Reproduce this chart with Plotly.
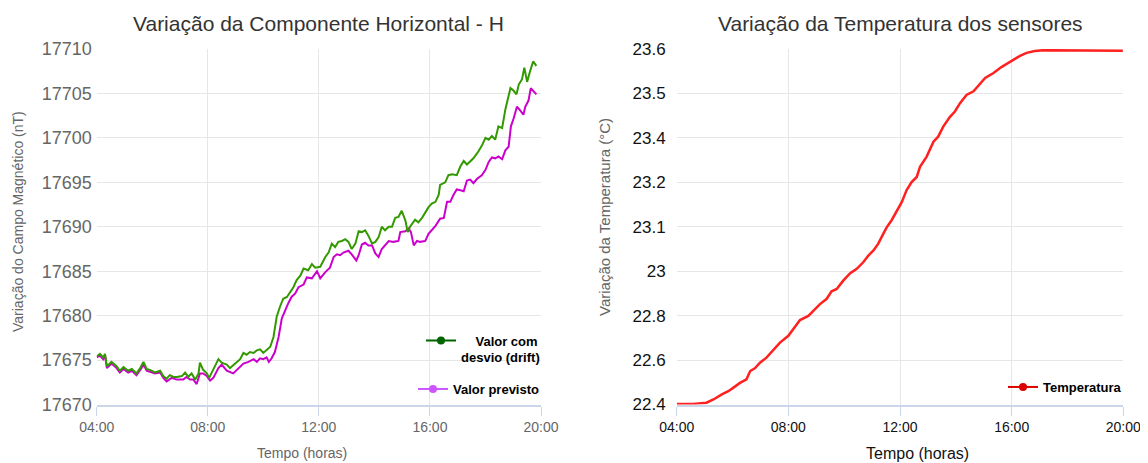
import numpy as np
import pandas as pd
import plotly.graph_objects as go

# ---------------- data (minutes after 04:00) ----------------
drift_min = [0, 7, 14, 18, 22, 32, 43, 50, 58, 68,
             76, 86, 94, 101, 108, 115, 126, 137, 144, 151,
             158, 166, 173, 184, 191, 198, 205, 213, 220, 223,
             230, 238, 243, 252, 263, 270, 281, 288, 299, 310,
             317, 324, 331, 339, 346, 353, 360, 367, 375, 382,
             389, 396, 403, 411, 418, 425, 432, 440, 447, 457,
             465, 472, 483, 494, 501, 508, 515, 522, 530, 537,
             544, 551, 559, 566, 573, 580, 587, 595, 602, 609,
             616, 623, 631, 638, 645, 652, 659, 667, 672, 677,
             688, 695, 703, 710, 717, 724, 732, 739, 742, 753,
             760, 768, 778, 786, 793, 800, 807, 814, 825, 832,
             840, 847, 854, 861, 868, 876, 883, 888, 894, 901,
             907, 912, 919, 924, 930, 937, 943, 950]
drift_nT = [17675.4, 17675.7, 17675.3, 17675.7, 17674.3, 17674.8, 17674.3, 17673.8, 17674.2, 17673.8,
            17674.0, 17673.5, 17674.1, 17674.8, 17674.0, 17673.9, 17673.6, 17673.8, 17673.2, 17672.9,
            17673.3, 17673.1, 17673.1, 17673.2, 17673.6, 17673.1, 17673.5, 17672.8, 17673.5, 17674.7,
            17673.9, 17673.5, 17673.0, 17673.9, 17675.1, 17674.7, 17674.5, 17674.1, 17674.6, 17675.1,
            17675.8, 17675.6, 17675.9, 17675.8, 17676.1, 17676.2, 17675.8, 17676.1, 17676.5, 17677.6,
            17679.9, 17681.0, 17681.9, 17682.1, 17682.7, 17683.2, 17684.0, 17684.5, 17685.3, 17685.1,
            17685.8, 17685.4, 17685.5, 17686.6, 17687.1, 17688.1, 17687.7, 17688.3, 17688.4, 17688.6,
            17688.3, 17687.5, 17688.1, 17689.5, 17689.4, 17689.6, 17689.0, 17688.1, 17688.3, 17688.8,
            17690.0, 17689.6, 17690.0, 17690.0, 17691.0, 17691.1, 17691.8, 17690.7, 17689.4, 17690.0,
            17690.8, 17690.5, 17691.0, 17691.6, 17692.2, 17692.6, 17692.8, 17693.6, 17694.7, 17695.0,
            17695.8, 17695.9, 17695.8, 17696.8, 17697.4, 17697.0, 17697.4, 17697.7, 17698.5, 17699.1,
            17700.0, 17699.8, 17700.2, 17699.8, 17701.3, 17701.1, 17703.2, 17704.3, 17705.6, 17705.3,
            17704.9, 17706.0, 17706.6, 17707.9, 17706.3, 17707.6, 17708.6, 17708.1]

prev_min = [0, 7, 14, 18, 22, 32, 43, 50, 58, 68,
            76, 86, 97, 101, 108, 126, 137, 144, 151, 162,
            173, 187, 194, 202, 209, 216, 223, 230, 238, 245,
            252, 263, 270, 281, 295, 306, 317, 328, 339, 346,
            353, 360, 367, 372, 378, 385, 393, 400, 407, 414,
            421, 429, 436, 447, 454, 465, 476, 483, 494, 504,
            512, 519, 526, 533, 544, 551, 561, 566, 573, 580,
            587, 595, 602, 609, 616, 623, 631, 641, 652, 656,
            667, 674, 679, 685, 692, 699, 710, 717, 724, 732,
            742, 750, 757, 764, 771, 778, 786, 793, 800, 807,
            814, 822, 832, 840, 847, 854, 861, 868, 876, 883,
            890, 895, 901, 908, 915, 922, 926, 933, 938, 944,
            950]
prev_nT = [17675.3, 17675.5, 17675.1, 17675.5, 17674.1, 17674.6, 17674.1, 17673.6, 17674.0, 17673.6,
           17673.8, 17673.3, 17674.1, 17674.5, 17673.8, 17673.5, 17673.6, 17673.0, 17672.6, 17673.0,
           17672.8, 17672.8, 17673.1, 17672.8, 17672.8, 17672.3, 17673.5, 17673.5, 17673.2, 17672.7,
           17673.0, 17674.1, 17674.5, 17673.8, 17673.5, 17674.1, 17674.6, 17674.8, 17675.1, 17674.8,
           17675.2, 17675.1, 17675.3, 17674.8, 17675.2, 17675.9, 17677.6, 17679.7, 17680.6, 17681.4,
           17682.1, 17682.5, 17683.2, 17683.5, 17684.3, 17684.2, 17685.0, 17684.2, 17684.9, 17685.4,
           17686.6, 17686.9, 17686.8, 17687.1, 17687.3, 17686.9, 17686.2, 17686.8, 17688.0, 17688.2,
           17687.9, 17687.9, 17687.0, 17686.6, 17687.5, 17687.9, 17688.4, 17688.3, 17688.4, 17689.4,
           17689.5, 17689.8, 17689.4, 17687.9, 17688.4, 17688.3, 17688.4, 17689.2, 17689.6, 17690.1,
           17690.9, 17691.0, 17692.8, 17692.8, 17693.6, 17694.2, 17694.1, 17694.0, 17695.2, 17695.3,
           17694.9, 17695.4, 17695.8, 17696.4, 17697.3, 17697.8, 17697.7, 17697.9, 17697.6, 17698.6,
           17699.0, 17701.3, 17702.2, 17703.5, 17703.1, 17702.6, 17703.5, 17704.2, 17705.6, 17705.3,
           17704.9]

temp_min = [0, 36, 64, 79, 97, 111, 122, 136, 150, 158,
            168, 179, 193, 208, 222, 240, 251, 265, 283, 297,
            308, 322, 333, 344, 358, 373, 387, 401, 412, 423,
            433, 444, 451, 462, 473, 484, 494, 505, 516, 523,
            537, 552, 562, 573, 587, 598, 609, 623, 638, 648,
            663, 681, 698, 713, 727, 738, 752, 770, 788, 824,
            860, 895, 959]
temp_C = [22.402, 22.402, 22.406, 22.417, 22.434, 22.445, 22.457, 22.473, 22.485, 22.513,
          22.522, 22.541, 22.558, 22.583, 22.609, 22.632, 22.654, 22.685, 22.699, 22.722,
          22.739, 22.756, 22.782, 22.790, 22.818, 22.843, 22.858, 22.880, 22.903, 22.920,
          22.942, 22.976, 22.997, 23.022, 23.055, 23.084, 23.123, 23.151, 23.168, 23.202,
          23.236, 23.287, 23.304, 23.338, 23.370, 23.389, 23.417, 23.445, 23.457, 23.474,
          23.502, 23.519, 23.539, 23.553, 23.566, 23.577, 23.587, 23.593, 23.596, 23.596,
          23.596, 23.596, 23.594]

temp_tick_labels = ["22.4", "22.6", "22.8", "23", "23.1", "23.2", "23.4", "23.5", "23.6"]

# ---------------- build ----------------
base = pd.Timestamp("2024-01-01 04:00")
def to_time(mins):
    return base + pd.to_timedelta(np.array(mins), unit="m")

t_start = base
t_end = base + pd.Timedelta(hours=16)

FONT = "Liberation Sans, Arial, sans-serif"
OFF = 8                      # page body margin
W, H = 1148 - OFF, 463 - OFF  # figure size

fig = go.Figure()

fig.add_trace(go.Scatter(x=to_time(prev_min), y=prev_nT, mode="lines",
                         line=dict(color="#cc00cc", width=2), showlegend=False,
                         xaxis="x", yaxis="y"))
fig.add_trace(go.Scatter(x=to_time(drift_min), y=drift_nT, mode="lines",
                         line=dict(color="#339900", width=2), showlegend=False,
                         xaxis="x", yaxis="y"))
fig.add_trace(go.Scatter(x=to_time(temp_min), y=temp_C, mode="lines",
                         line=dict(color="#ff2020", width=2.5), showlegend=False,
                         xaxis="x2", yaxis="y2"))

# legend entries
fig.add_trace(go.Scatter(x=[None], y=[None], mode="lines+markers",
                         name="&nbsp;&nbsp;&nbsp;&nbsp;Valor com<br>desvio (drift)",
                         line=dict(color="#006400", width=2), marker=dict(size=8, color="#006400"),
                         legend="legend", xaxis="x", yaxis="y"))
fig.add_trace(go.Scatter(x=[None], y=[None], mode="lines+markers",
                         name="Valor previsto",
                         line=dict(color="#cc55ff", width=2), marker=dict(size=8, color="#cc55ff"),
                         legend="legend2", xaxis="x", yaxis="y"))
fig.add_trace(go.Scatter(x=[None], y=[None], mode="lines+markers",
                         name="Temperatura",
                         line=dict(color="#dd0000", width=2), marker=dict(size=8, color="#dd0000"),
                         legend="legend3", xaxis="x2", yaxis="y2"))

def px_x(p):
    return (p - OFF) / W

def px_y(p):
    return 1 - (p - OFF) / H

ydom = [px_y(404.5), px_y(49)]
xdom1 = [px_x(96.7), px_x(541)]
xdom2 = [px_x(676.7), px_x(1123.3)]

grid = "#e6e6e6"
axisline = "#ccd6eb"

common_x = dict(type="date", range=[t_start, t_end], tick0=t_start, dtick=4 * 3600 * 1000,
                tickformat="%H:%M", showgrid=True, gridcolor=grid, gridwidth=1,
                showline=True, linecolor=axisline, linewidth=2,
                ticks="outside", ticklen=9, tickcolor=axisline, tickwidth=1,
                zeroline=False, automargin=False, fixedrange=True)

leg_font = dict(family=FONT, size=13, color="#000000", weight="bold")

fig.update_layout(
    width=W, height=H,
    margin=dict(l=0, r=0, t=0, b=0),
    paper_bgcolor="white", plot_bgcolor="white",
    font=dict(family=FONT),
    xaxis=dict(domain=xdom1, anchor="y", tickfont=dict(size=14, color="#666666", family=FONT),
               **common_x),
    yaxis=dict(domain=ydom, anchor="x", range=[17670, 17710], dtick=5, tickformat="d",
               showgrid=True, gridcolor=grid, gridwidth=1, showline=False, zeroline=False,
               ticks="", ticklabelstandoff=4,
               tickfont=dict(size=18, color="#666666", family=FONT), automargin=False),
    xaxis2=dict(domain=xdom2, anchor="y2", tickfont=dict(size=14, color="#111111", family=FONT),
                **common_x),
    yaxis2=dict(domain=ydom, anchor="x2", range=[22.4, 23.6],
                tickvals=list(np.linspace(22.4, 23.6, len(temp_tick_labels))),
                ticktext=temp_tick_labels,
                showgrid=True, gridcolor=grid, gridwidth=1, showline=False, zeroline=False,
                ticks="", ticklabelstandoff=10,
                tickfont=dict(size=17, color="#111111", family=FONT), automargin=False),
    legend=dict(x=px_x(545), xanchor="right", y=px_y(349), yanchor="middle",
                bgcolor="rgba(0,0,0,0)", font=leg_font, valign="top",
                itemwidth=30, tracegroupgap=0),
    legend2=dict(x=px_x(545), xanchor="right", y=px_y(389), yanchor="middle",
                 bgcolor="rgba(0,0,0,0)", font=leg_font, itemwidth=30),
    legend3=dict(x=px_x(1127), xanchor="right", y=px_y(387), yanchor="middle",
                 bgcolor="rgba(0,0,0,0)", font=leg_font, itemwidth=30),
    annotations=[
        dict(text="Variação da Componente Horizontal - H", x=px_x(318), y=px_y(24),
             xref="paper", yref="paper", showarrow=False, xanchor="center", yanchor="middle",
             font=dict(size=21, color="#333333", family=FONT)),
        dict(text="Variação da Temperatura dos sensores", x=px_x(900), y=px_y(24),
             xref="paper", yref="paper", showarrow=False, xanchor="center", yanchor="middle",
             font=dict(size=21, color="#333333", family=FONT)),
        dict(text="Variação do Campo Magnético (nT)", x=px_x(18), y=px_y(222), textangle=-90,
             xref="paper", yref="paper", showarrow=False, xanchor="center", yanchor="middle",
             font=dict(size=14, color="#666666", family=FONT)),
        dict(text="Variação da Temperatura (°C)", x=px_x(605), y=px_y(217), textangle=-90,
             xref="paper", yref="paper", showarrow=False, xanchor="center", yanchor="middle",
             font=dict(size=15, color="#666666", family=FONT)),
        dict(text="Tempo (horas)", x=px_x(302), y=px_y(453), xref="paper", yref="paper",
             showarrow=False, xanchor="center", yanchor="middle",
             font=dict(size=14, color="#666666", family=FONT)),
        dict(text="Tempo (horas)", x=px_x(917), y=px_y(453), xref="paper", yref="paper",
             showarrow=False, xanchor="center", yanchor="middle",
             font=dict(size=16, color="#111111", family=FONT)),
    ],
)

fig.write_html("out.html")
